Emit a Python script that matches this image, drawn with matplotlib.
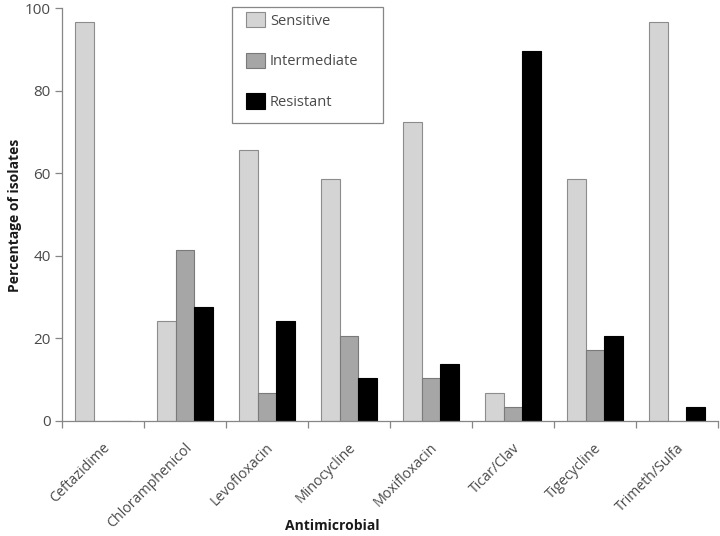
import matplotlib
matplotlib.use("Agg")
import matplotlib.pyplot as plt
from matplotlib.patches import Rectangle
import numpy as np

categories = ["Ceftazidime", "Chloramphenicol", "Levofloxacin", "Minocycline",
              "Moxifloxacin", "Ticar/Clav", "Tigecycline", "Trimeth/Sulfa"]
sensitive = [96.6, 24.1, 65.5, 58.6, 72.4, 6.9, 58.6, 96.6]
intermediate = [0.0, 41.4, 6.9, 20.7, 10.3, 3.4, 17.2, 0.0]
resistant = [0.0, 27.6, 24.1, 10.3, 13.8, 89.7, 20.7, 3.4]
series_names = ["Sensitive", "Intermediate", "Resistant"]
yticks = [0, 20, 40, 60, 80, 100]

plt.rcParams['font.family'] = ['Open Sans', 'DejaVu Sans']
fig = plt.figure(figsize=(7.2, 5.36), dpi=100)
ax = fig.add_axes([62/720, 1-421/536, (718-62)/720, (421-8)/536])

x = np.arange(len(categories)) + 0.5
w = 0.224
fills = ["#d4d4d4", "#a6a6a6", "#000000"]
edges = ["#8c8c8c", "#7a7a7a", "#000000"]
handles = []
for i, (vals, name) in enumerate(zip([sensitive, intermediate, resistant], series_names)):
    h = ax.bar(x + (i - 1) * w, vals, w, color=fills[i], edgecolor=edges[i],
               linewidth=0.8, label=name)
    handles.append(h)

ax.set_xlim(0, len(categories))
ax.set_ylim(0, 100)
ax.set_yticks(yticks)
ax.set_yticklabels([str(v) for v in yticks], fontsize=11, color="#4a4a4a")
ax.set_xticks(np.arange(len(categories) + 1))
ax.set_xticklabels([])
ax.tick_params(axis='both', direction='out', length=5, color="#868686", width=0.9)
ax.tick_params(axis='y', pad=3)
for s in ["top", "right"]:
    ax.spines[s].set_visible(False)
for s in ["left", "bottom"]:
    ax.spines[s].set_color("#868686")
    ax.spines[s].set_linewidth(0.9)

for xi, lab in zip(x, categories):
    ax.text(xi - 0.01, -4.7, lab, rotation=45, ha='right', va='top',
            rotation_mode='anchor', fontsize=10.2, color="#4a4a4a")

fig.text(8/720, 1-215/536, "Percentage of isolates", rotation=90, ha='left',
         va='center', fontsize=10, fontweight='bold', color="#1a1a1a")
fig.text(332/720, 1-526/536, "Antimicrobial", ha='center', va='center',
         fontsize=10, fontweight='bold', color="#1a1a1a")

# legend frame
fig.patches.append(Rectangle((232/720, 1-123/536), 151/720, 116/536,
                             transform=fig.transFigure, facecolor='white',
                             edgecolor="#868686", linewidth=0.9, zorder=5))
leg = fig.legend(handles=handles, loc='upper left',
                 bbox_to_anchor=(246/720, 1-12/536),
                 frameon=False, fontsize=10.5, labelspacing=1.65,
                 handlelength=1.3, handleheight=1.25, handletextpad=0.35,
                 borderpad=0, borderaxespad=0)
leg.set_zorder(6)
for t in leg.get_texts():
    t.set_color("#4a4a4a")

fig.savefig("out.png", dpi=100)
